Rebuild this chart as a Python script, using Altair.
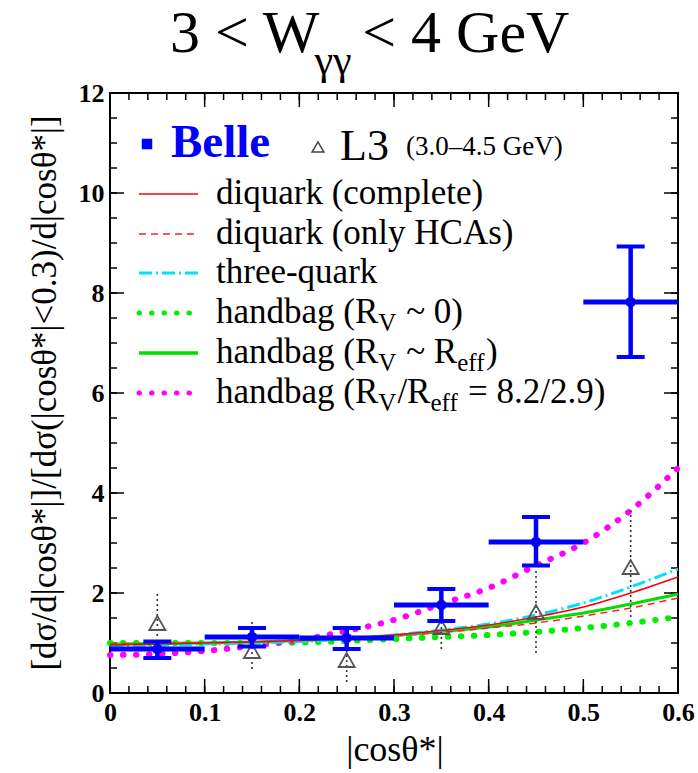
import altair as alt
import pandas as pd

# ---------------- data ----------------
bin_x = [0.05, 0.15, 0.25, 0.35, 0.45, 0.55]
bin_lo = [0.0, 0.1, 0.2, 0.3, 0.4, 0.5]
bin_hi = [0.1, 0.2, 0.3, 0.4, 0.5, 0.6]

belle_y = [0.88, 1.12, 1.10, 1.76, 3.02, 7.82]
belle_err_lo = [0.70, 0.93, 0.88, 1.44, 2.55, 6.72]
belle_err_hi = [1.03, 1.30, 1.30, 2.08, 3.52, 8.93]

l3_y = [1.40, 0.84, 0.66, 1.32, 1.62, 2.52]
l3_err_lo = [1.14, 0.48, 0.22, 0.88, 0.80, 1.52]
l3_err_hi = [2.00, 1.46, 1.10, 1.75, 2.50, 3.66]

curve_x = [0.0, 0.05, 0.1, 0.15, 0.2, 0.25, 0.3, 0.35, 0.4, 0.45, 0.5, 0.55, 0.6]
diq_complete = [0.96, 0.98, 1.00, 1.02, 1.05, 1.09, 1.16, 1.25, 1.36, 1.52, 1.72, 2.00, 2.32]
diq_hca = [0.98, 0.99, 1.00, 1.02, 1.05, 1.08, 1.14, 1.21, 1.30, 1.40, 1.54, 1.70, 1.90]
three_quark = [0.93, 0.95, 0.98, 1.00, 1.03, 1.08, 1.16, 1.26, 1.38, 1.56, 1.80, 2.12, 2.48]
handbag_0 = [1.00, 1.00, 1.00, 1.00, 1.01, 1.04, 1.08, 1.12, 1.16, 1.22, 1.30, 1.40, 1.52]
handbag_eff = [0.98, 0.99, 1.00, 1.02, 1.05, 1.09, 1.15, 1.23, 1.32, 1.46, 1.60, 1.78, 1.98]
handbag_82 = [0.76, 0.78, 0.84, 0.94, 1.06, 1.24, 1.46, 1.78, 2.10, 2.55, 3.00, 3.65, 4.50]

x_major = [0.0, 0.1, 0.2, 0.3, 0.4, 0.5, 0.6]
x_minor = [round(i * 0.02, 2) for i in range(31)]
y_major = [0, 2, 4, 6, 8, 10, 12]
y_minor = [i * 0.5 for i in range(25)]

# ---------------- style ----------------
SERIF = "Liberation Serif"
W, H = 568, 600
BLUE = "#0000ff"

xs = alt.Scale(domain=[0, 0.6], nice=False, zero=False)
ys = alt.Scale(domain=[0, 12], nice=False, zero=False)
xaxis = alt.Axis(values=x_major, labelExpr="datum.value == 0 ? '0' : format(datum.value, '.1f')",
                 ticks=False, domain=False, grid=False, labelFont=SERIF, labelFontSize=26,
                 labelFontWeight="bold", labelColor="black", labelPadding=6, labelFlush=False,
                 labelOverlap=False, title=None)
yaxis = alt.Axis(values=y_major, format="d", ticks=False, domain=False, grid=False,
                 labelFont=SERIF, labelFontSize=26, labelFontWeight="bold", labelColor="black",
                 labelPadding=6, labelFlush=False, labelOverlap=False, title=None)


def X(f):
    return alt.X(f, type="quantitative", scale=xs, axis=xaxis)


def Y(f):
    return alt.Y(f, type="quantitative", scale=ys, axis=yaxis)


one = pd.DataFrame({"a": [0]})
layers = []

# ---------------- ticks (inward) ----------------
dfxM = pd.DataFrame({"x": x_major})
dfxm = pd.DataFrame({"x": x_minor})
dfyM = pd.DataFrame({"y": y_major})
dfym = pd.DataFrame({"y": y_minor})
for df, L in ((dfxM, 14), (dfxm, 7)):
    layers.append(alt.Chart(df).mark_rule(color="black", strokeWidth=1.5).encode(
        x=X("x"), y=alt.value(H), y2=alt.value(H - L)))
    layers.append(alt.Chart(df).mark_rule(color="black", strokeWidth=1.5).encode(
        x=X("x"), y=alt.value(0), y2=alt.value(L)))
for df, L in ((dfyM, 14), (dfym, 7)):
    layers.append(alt.Chart(df).mark_rule(color="black", strokeWidth=1.5).encode(
        y=Y("y"), x=alt.value(0), x2=alt.value(L)))
    layers.append(alt.Chart(df).mark_rule(color="black", strokeWidth=1.5).encode(
        y=Y("y"), x=alt.value(W), x2=alt.value(W - L)))

# ---------------- curves ----------------
curves = [
    (handbag_0, dict(color="#00ee00", strokeWidth=6, strokeDash=[0.5, 12.5], strokeCap="round")),
    (handbag_82, dict(color="#ff00ff", strokeWidth=6, strokeDash=[0.5, 12.5], strokeCap="round")),
    (handbag_eff, dict(color="#00dd00", strokeWidth=3)),
    (diq_hca, dict(color="#ff2020", strokeWidth=1.5, strokeDash=[7, 5])),
    (three_quark, dict(color="#00e0ff", strokeWidth=3, strokeDash=[13, 4, 2, 4])),
    (diq_complete, dict(color="#ff0000", strokeWidth=1.5)),
]
for vals, sty in curves:
    df = pd.DataFrame({"x": curve_x, "y": vals})
    layers.append(alt.Chart(df).mark_line(interpolate="monotone", **sty).encode(x=X("x"), y=Y("y")))

# ---------------- L3 ----------------
l3 = pd.DataFrame({"x": bin_x, "y": l3_y, "lo": l3_err_lo, "hi": l3_err_hi})
layers.append(alt.Chart(l3).mark_rule(color="#333333", strokeWidth=1.6, strokeDash=[2, 3]).encode(
    x=X("x"), y=Y("lo"), y2=alt.Y2("hi")))
layers.append(alt.Chart(l3).mark_point(shape="triangle-up", filled=False, color="#555555",
                                       strokeWidth=1.8, size=260, opacity=1).encode(x=X("x"), y=Y("y")))

# ---------------- Belle ----------------
bl = pd.DataFrame({"x": bin_x, "xlo": bin_lo, "xhi": bin_hi, "y": belle_y,
                   "lo": belle_err_lo, "hi": belle_err_hi})
layers.append(alt.Chart(bl).mark_rule(color=BLUE, strokeWidth=5).encode(
    x=X("xlo"), x2=alt.X2("xhi"), y=Y("y")))
layers.append(alt.Chart(bl).mark_rule(color=BLUE, strokeWidth=4.5).encode(
    x=X("x"), y=Y("lo"), y2=alt.Y2("hi")))
for f in ("lo", "hi"):
    layers.append(alt.Chart(bl).mark_rule(color=BLUE, strokeWidth=4, xOffset=-14, x2Offset=14).encode(
        x=X("x"), x2=alt.X2("x"), y=Y(f)))
layers.append(alt.Chart(bl).mark_circle(color=BLUE, size=110, opacity=1).encode(x=X("x"), y=Y("y")))

# ---------------- text helpers ----------------
TW = {' ': 250, '(': 333, ')': 333, '/': 278, '~': 541, '=': 564, '.': 250, '-': 333, '<': 564,
      '–': 500, 'A': 722, 'C': 667, 'H': 722, 'R': 667, 'V': 722, 'W': 944, 'G': 722, 'L': 611,
      'a': 444, 'b': 500, 'c': 444, 'd': 500, 'e': 444, 'f': 333, 'g': 500, 'h': 500, 'i': 278,
      'k': 500, 'l': 278, 'm': 778, 'n': 500, 'o': 500, 'p': 500, 'q': 500, 'r': 333, 's': 389,
      't': 278, 'u': 500, 'v': 500, 'y': 500, 'γ': 450}


def tw(s):
    return sum(TW.get(c, 500) for c in s) / 1000.0


def add_text(segs, x0, yb, size, sub_size, sub_drop, color="black", weight="normal", gap=0):
    x = x0
    for t, sub in segs:
        fs = sub_size if sub else size
        lead = len(t) - len(t.lstrip(' '))
        x += lead * 0.25 * fs
        body = t.strip(' ')
        layers.append(alt.Chart(one).mark_text(
            text=body, font=SERIF, fontSize=fs, fontWeight=weight, color=color,
            align="left", baseline="alphabetic").encode(
            x=alt.value(x), y=alt.value(yb + (sub_drop if sub else 0))))
        x += tw(body) * fs
        trail = len(t) - len(t.rstrip(' '))
        x += trail * 0.25 * fs
        if sub:
            x += gap


# title
add_text([("3 < W", False)], 60, -41, 60, 42, 22)
x_sub = 60 + tw("3 < W") * 60 - 6
add_text([("γγ", True)], x_sub, -41, 60, 42, 22)
add_text([("< 4 GeV", False)], x_sub + tw("γγ") * 42 + 10, -41, 60, 42, 22)

# axis titles
layers.append(alt.Chart(one).mark_text(
    text="|cosθ*|", font=SERIF, fontSize=36, color="black", align="center", baseline="alphabetic").encode(
    x=alt.value(285), y=alt.value(668)))
layers.append(alt.Chart(one).mark_text(
    text="[dσ/d|cosθ*|]/[dσ(|cosθ*|<0.3)/d|cosθ*|]", font=SERIF, fontSize=35, color="black",
    align="center", baseline="middle", angle=270).encode(
    x=alt.value(-65), y=alt.value(300)))

# legend: Belle / L3
layers.append(alt.Chart(one).mark_square(color=BLUE, size=110, opacity=1).encode(
    x=alt.value(37), y=alt.value(51)))
add_text([("Belle", False)], 61, 64, 47, 30, 0, color=BLUE, weight="bold")
layers.append(alt.Chart(one).mark_point(shape="triangle-up", filled=False, color="#444444",
                                        strokeWidth=1.5, size=140, opacity=1).encode(
    x=alt.value(208), y=alt.value(54)))
add_text([("L3", False)], 230, 67, 44, 30, 0)
add_text([("(3.0–4.5 GeV)", False)], 296, 62, 27, 20, 0)

# legend: model rows
rows_y = [101, 141, 180, 220, 260, 300]
samples = [
    dict(color="#ff0000", strokeWidth=1.5),
    dict(color="#ff2020", strokeWidth=1.5, strokeDash=[7, 5]),
    dict(color="#00e0ff", strokeWidth=3, strokeDash=[13, 4, 2, 4]),
    dict(color="#00ee00", strokeWidth=5, strokeDash=[0.5, 12], strokeCap="round"),
    dict(color="#00dd00", strokeWidth=3.5),
    dict(color="#ff00ff", strokeWidth=5, strokeDash=[0.5, 12], strokeCap="round"),
]
labels = [
    [("diquark (complete)", False)],
    [("diquark (only HCAs)", False)],
    [("three-quark", False)],
    [("handbag (R", False), ("V", True), (" ~ 0)", False)],
    [("handbag (R", False), ("V", True), (" ~ R", False), ("eff", True), (")", False)],
    [("handbag (R", False), ("V", True), ("/R", False), ("eff", True), (" = 8.2/2.9)", False)],
]
for yy, sty, segs in zip(rows_y, samples, labels):
    layers.append(alt.Chart(one).mark_rule(**sty).encode(
        x=alt.value(29), x2=alt.value(88), y=alt.value(yy)))
    add_text(segs, 106, yy + 10, 35, 25, 8, gap=1)

chart = alt.layer(*layers).properties(
    width=W, height=H,
    autosize=alt.AutoSizeParams(type="none"),
    padding={"left": 110, "top": 93, "right": 20, "bottom": 80},
    background="white",
).configure_view(stroke="black", strokeWidth=2)

chart.save("out.html", embed_options={"renderer": "svg", "actions": False})
